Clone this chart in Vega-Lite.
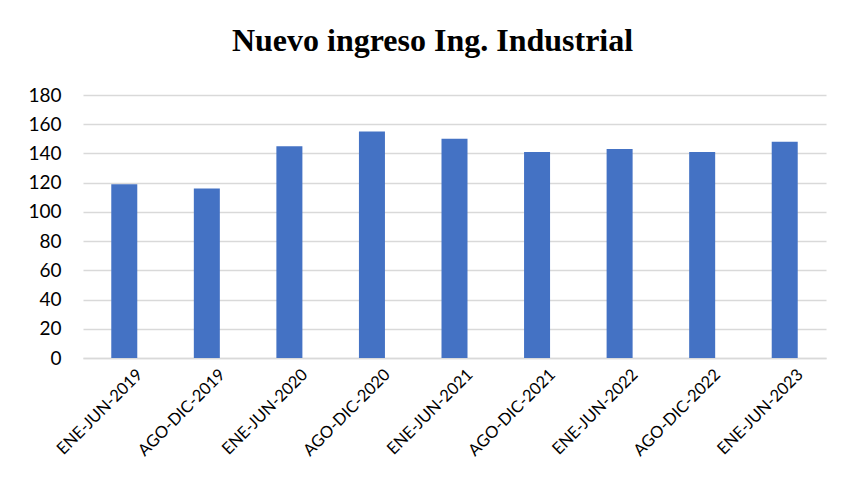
{
  "$schema": "https://vega.github.io/schema/vega-lite/v6.json",
  "autosize": {"type": "none"},
  "width": 743,
  "height": 263,
  "padding": {"left": 83, "top": 95, "right": 16, "bottom": 133},
  "background": "white",
  "title": {
    "text": "Nuevo ingreso Ing. Industrial",
    "font": "Liberation Serif",
    "fontSize": 32,
    "fontWeight": "bold",
    "color": "black",
    "anchor": "middle",
    "dx": -22,
    "offset": 28
  },
  "data": {
    "values": [
      {"periodo": "ENE-JUN-2019", "alumnos": 119},
      {"periodo": "AGO-DIC-2019", "alumnos": 116},
      {"periodo": "ENE-JUN-2020", "alumnos": 145},
      {"periodo": "AGO-DIC-2020", "alumnos": 155},
      {"periodo": "ENE-JUN-2021", "alumnos": 150},
      {"periodo": "AGO-DIC-2021", "alumnos": 141},
      {"periodo": "ENE-JUN-2022", "alumnos": 143},
      {"periodo": "AGO-DIC-2022", "alumnos": 141},
      {"periodo": "ENE-JUN-2023", "alumnos": 148}
    ]
  },
  "mark": {"type": "bar", "color": "#4472c4"},
  "encoding": {
    "x": {
      "field": "periodo",
      "type": "nominal",
      "sort": null,
      "scale": {"paddingInner": 0.685, "paddingOuter": 0.3425},
      "axis": {
        "title": null,
        "labelAngle": -45,
        "labelFont": "Lato",
        "labelFontSize": 16.5,
        "labelColor": "black",
        "labelPadding": 8,
        "labelOffset": 10,
        "ticks": false,
        "domainColor": "#d9d9d9",
        "domainWidth": 1.5
      }
    },
    "y": {
      "field": "alumnos",
      "type": "quantitative",
      "scale": {"domain": [0, 180]},
      "axis": {
        "title": null,
        "values": [0, 20, 40, 60, 80, 100, 120, 140, 160, 180],
        "labelFont": "Lato",
        "labelFontSize": 19,
        "labelColor": "black",
        "labelPadding": 22,
        "ticks": false,
        "domain": false,
        "gridColor": "#d9d9d9",
        "gridWidth": 1.5
      }
    }
  },
  "config": {"view": {"stroke": null}}
}
